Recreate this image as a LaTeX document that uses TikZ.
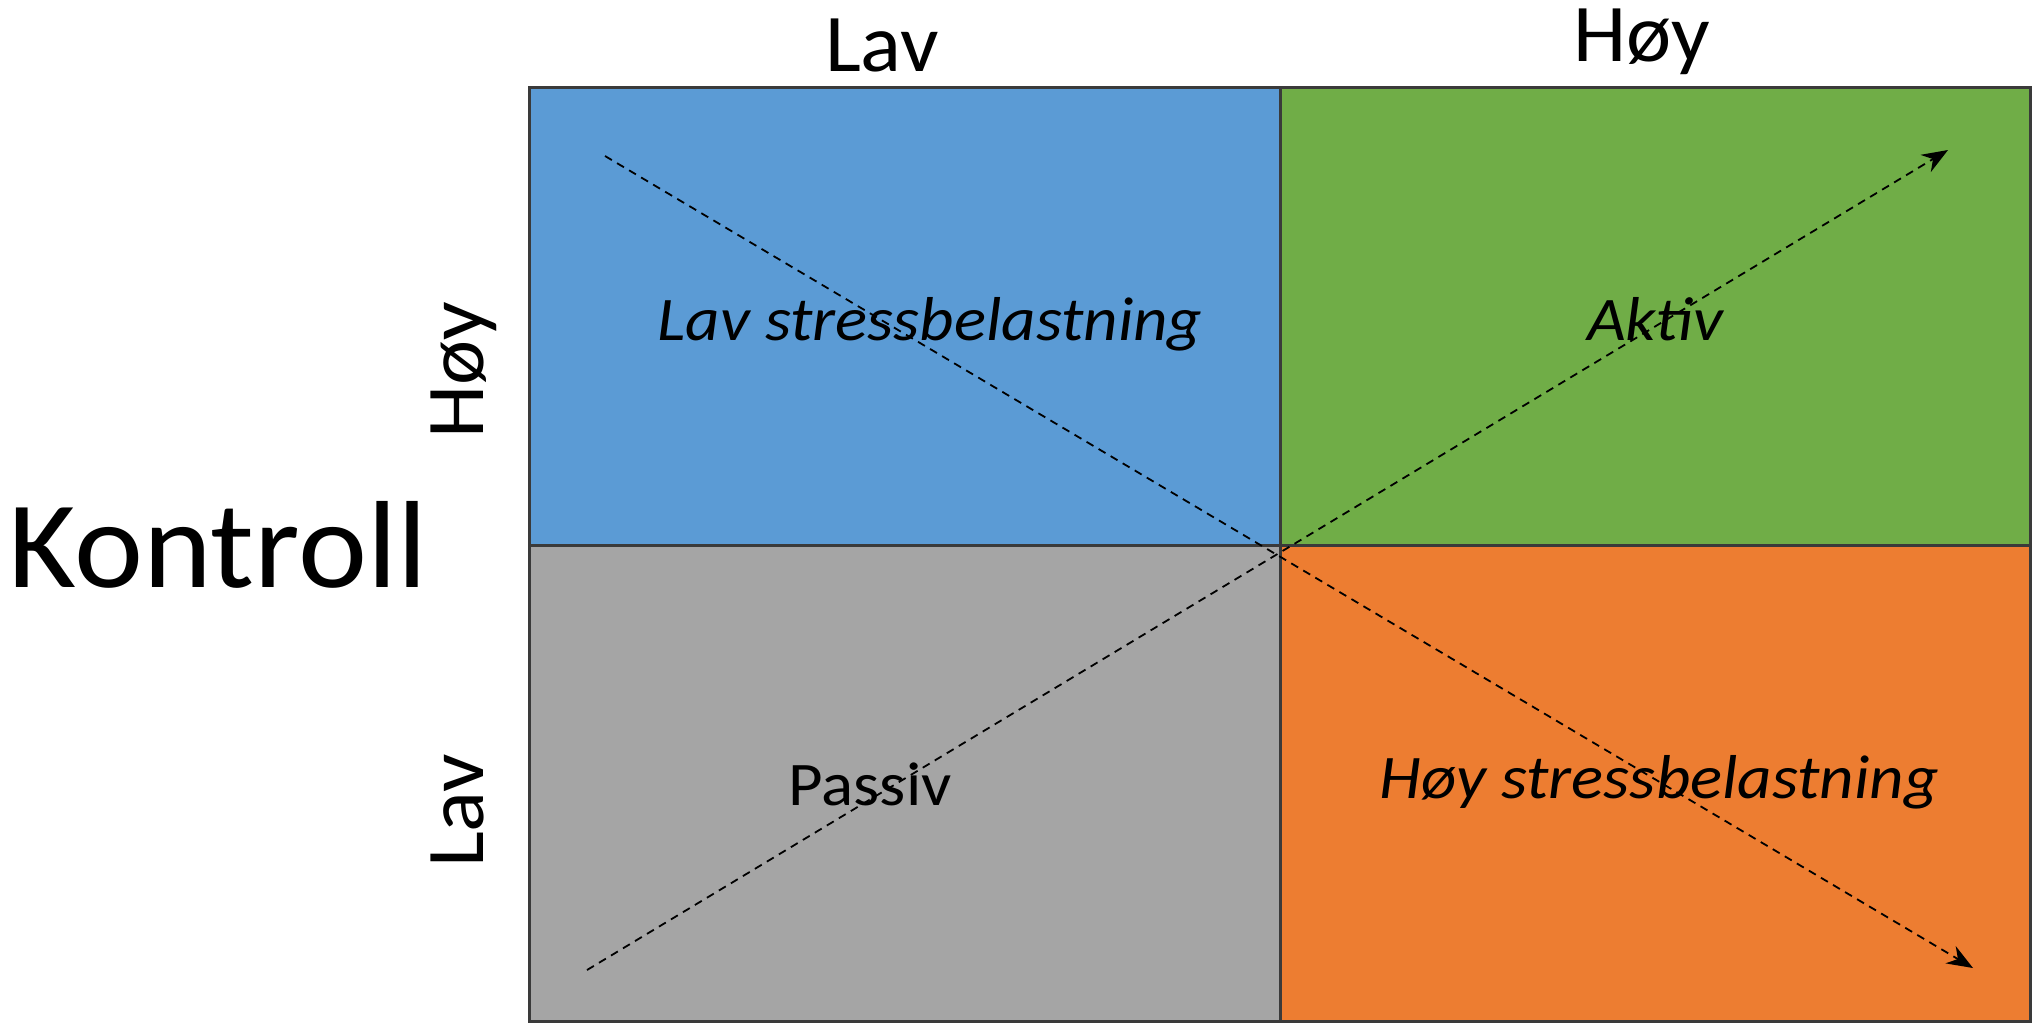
\documentclass[tikz,border=0pt]{standalone}
\usepackage{fontspec}
\setmainfont{Carlito}[FakeStretch=1.04]
\newfontfamily\widefont{Carlito}[FakeStretch=1.08]
\newfontfamily\bigfont{Carlito}[FakeStretch=1.055]
\usetikzlibrary{arrows.meta}
\definecolor{qblue}{HTML}{5B9BD5}
\definecolor{qgreen}{HTML}{70AD47}
\definecolor{qgray}{HTML}{A5A5A5}
\definecolor{qorange}{HTML}{ED7D31}
\definecolor{qedge}{HTML}{3A3A3A}
\tikzset{
  quad/.style={draw=qedge, line width=1.5pt},
  axislbl/.style={font=\fontsize{41}{41}\selectfont, anchor=base, inner sep=0pt},
  quadlbl/.style={font=\widefont\fontsize{31}{31}\selectfont\itshape, anchor=base, inner sep=0pt},
  plainlbl/.style={font=\widefont\fontsize{31}{31}\selectfont, anchor=base, inner sep=0pt},
  dasharrow/.style={line width=0.9pt, dash pattern=on 4pt off 3pt, -{Stealth[length=13pt,width=10pt]}},
}
\begin{document}
\begin{tikzpicture}[x=0.5pt,y=-0.5pt]
\useasboundingbox (0,0) rectangle (2035,1024);
% quadrants
\fill[qblue] (529,87) rectangle (1280,545);
\fill[qgreen] (1280,87) rectangle (2030,545);
\fill[qgray] (529,545) rectangle (1280,1021);
\fill[qorange] (1280,545) rectangle (2030,1021);
\draw[quad] (529,87) rectangle (2030,1021);
\draw[quad] (1280,87) -- (1280,1021);
\draw[quad] (529,545) -- (2030,545);
% labels
\node[axislbl] (toplav) at (882,71) {Lav};
\node[axislbl] (tophoy) at (1642,61) {Høy};
\node[axislbl, rotate=90] (lefthoy) at (483,370) {Høy};
\node[axislbl, rotate=90] (leftlav) at (483,811) {Lav};
\node[font=\bigfont\fontsize{62}{62}\selectfont, anchor=base, inner sep=0pt] (kontroll) at (218,587) {Kontroll};
\node[quadlbl] (lavstress) at (930,340) {Lav stressbelastning};
\node[quadlbl] (aktiv) at (1655,340) {Aktiv};
\node[plainlbl] (passiv) at (870,805) {Passiv};
\node[quadlbl] (hoystress) at (1659,798) {Høy stressbelastning};
% arrows
\coordinate (a1s) at (587,970);
\coordinate (a1e) at (1948,150);
\coordinate (a2s) at (605,156);
\coordinate (a2e) at (1973,968);
\draw[dasharrow] (a1s) -- (a1e);
\draw[dasharrow] (a2s) -- (a2e);
\end{tikzpicture}
\end{document}
